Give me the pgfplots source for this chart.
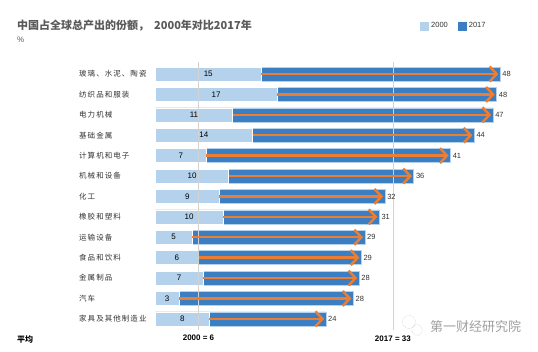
\documentclass[border=0pt]{standalone}
\usepackage{pgfplots}
\pgfplotsset{compat=1.18}
\usepackage{pgfplotstable}
\usepackage{fontspec}
\setmainfont{Liberation Sans}
\newfontfamily\cjk{Noto Sans CJK SC}
\newfontfamily\cjklab[LetterSpace=14]{Noto Sans CJK SC}
\usetikzlibrary{arrows.meta}
\definecolor{lightb}{HTML}{B4D2EC}
\definecolor{darkb}{HTML}{3B7EC2}
\definecolor{orng}{HTML}{ED7D31}
\definecolor{txt}{HTML}{333333}
\definecolor{ttl}{HTML}{595959}

\pgfplotstableread{
y a b la lb
0 14.7 47.9 15 48
1 16.9 47.4 17 48
2 10.75 46.9 11 47
3 13.5 44.3 14 44
4 7.1 41.0 7 41
5 10.2 35.9 10 36
6 8.9 31.9 9 32
7 9.4 31.1 10 31
8 5.1 29.1 5 29
9 6.0 28.6 6 29
10 6.6 28.3 7 28
11 3.3 27.5 3 28
12 7.5 23.7 8 24
}\datatable

\begin{document}
\begin{tikzpicture}
\path[use as bounding box] (0pt,0pt) rectangle (538pt,-352pt);
\node[anchor=west, font=\cjk\bfseries\fontsize{11}{12}\selectfont, text=ttl, inner sep=0pt] at (17pt,-26pt) {中国占全球总产出的份额，\hspace{5pt}2000年对比2017年};
\node[anchor=west, font=\fontsize{8}{9}\selectfont, text=ttl, inner sep=0pt] at (17pt,-40pt) {\%};
\node[anchor=west, font=\cjk\bfseries\fontsize{8}{9}\selectfont, text=black, inner sep=0pt] at (17pt,-339pt) {平均};
\node[anchor=west, font=\cjk\fontsize{13}{14}\selectfont, text=gray!75, inner sep=0pt] at (430pt,-327pt) {第一财经研究院};
\draw[gray!60, densely dotted] (409pt,-322pt) circle (6.5pt);
\draw[gray!60, densely dotted] (417pt,-330pt) circle (5.5pt);
\begin{axis}[
  at={(155.3pt,-62.8pt)}, anchor=north west,
  scale only axis, width=374.4pt, height=268.3pt,
  xmin=0, xmax=52, ymin=-0.55, ymax=12.6, y dir=reverse,
  /pgf/number format/assume math mode=true,
  axis line style={draw=none}, major tick length=0pt,
  xtick=\empty, ytick={0,...,12},
  yticklabels={玻璃、水泥、陶瓷,纺织品和服装,电力机械,基础金属,计算机和电子,机械和设备,化工,橡胶和塑料,运输设备,食品和饮料,金属制品,汽车,家具及其他制造业},
  yticklabel style={anchor=west, xshift=-76.3pt, inner sep=0pt, font=\cjklab\fontsize{7.5}{9}\selectfont, text=txt},
  clip=false,
  legend style={draw=none, fill=none, inner sep=0pt, legend columns=2,
    at={(axis description cs:0.707,1.137)}, anchor=west,
    font=\fontsize{7.5}{9}\selectfont, text=txt,
    /tikz/every even column/.append style={column sep=8pt}},
  legend image code/.code={\fill[#1, draw=none] (-3pt,-4.5pt) rectangle (6pt,4.5pt);},
]
\addlegendimage{fill=lightb, draw=none}
\addlegendentry{2000}
\addlegendimage{fill=darkb, draw=none}
\addlegendentry{2017}
\addplot[forget plot, xbar, bar width=14pt, bar shift=0pt, fill=darkb, draw=lightb, line width=0.6pt,
  nodes near coords, point meta=explicit,
  nodes near coords style={anchor=west, font=\fontsize{7.5}{9}\selectfont, text=txt, inner sep=2pt}]
  table[x=b, y=y, meta=lb] {\datatable};
\addplot[forget plot, xbar, bar width=14pt, bar shift=0pt, fill=lightb, draw=white, line width=0.6pt]
  table[x=a, y=y] {\datatable};
\addplot[forget plot, only marks, mark=none, nodes near coords, point meta=explicit,
  nodes near coords style={anchor=center, font=\fontsize{8}{9}\selectfont, text=black}]
  table[x expr=\thisrow{a}/2, y=y, meta=la] {\datatable};
\addplot[forget plot, gray!35, line width=0.6pt] coordinates {(6,-0.6) (6,12.55)};
\addplot[forget plot, gray!35, line width=0.6pt] coordinates {(33,-0.6) (33,12.55)};
\addplot[forget plot, orng, line width=2.5pt,
  quiver={u=\thisrow{b}-\thisrow{a}-0.25, v=0,
    every arrow/.append style={-{Straight Barb[length=7pt,width=15pt,line width=2.5pt]}}}]
  table[x=a, y=y] {\datatable};
\node[font=\bfseries\fontsize{8}{9}\selectfont, text=black] at (axis cs:6,12.94) {2000 = 6};
\node[font=\bfseries\fontsize{8}{9}\selectfont, text=black] at (axis cs:33,12.98) {2017 = 33};
\end{axis}
\end{tikzpicture}
\end{document}
